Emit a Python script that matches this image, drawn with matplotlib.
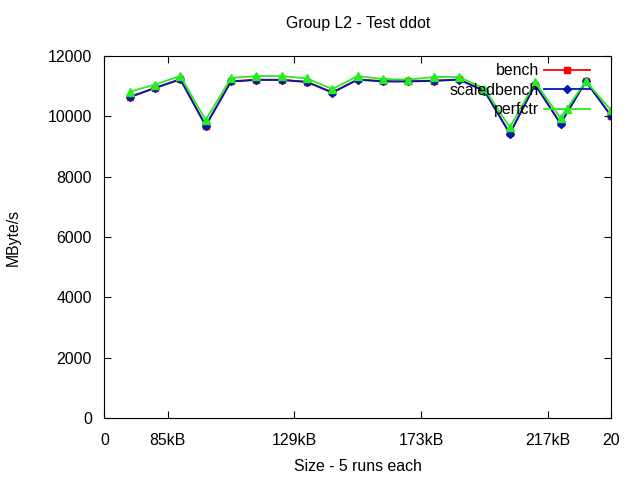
import matplotlib
matplotlib.use("Agg")
import matplotlib.pyplot as plt

plt.rcParams["font.family"] = ["Liberation Sans", "DejaVu Sans"]

x = list(range(1, 21))
bench = [10650, 10950, 11240, 9700, 11170, 11220, 11220, 11150, 10800, 11230,
         11170, 11170, 11190, 11230, 10850, 9440, 11060, 9770, 11170, 10020]
scaledbench = [10640, 10940, 11230, 9690, 11160, 11210, 11210, 11140, 10790, 11220,
               11160, 11160, 11180, 11220, 10840, 9430, 11050, 9760, 11160, 10010]
perfctr = [10820, 11060, 11340, 9880, 11280, 11340, 11340, 11260, 10910, 11340,
           11240, 11220, 11310, 11310, 10920, 9640, 11130, 9950, 11170, 10200]

tick_pos = [0, 2.5, 7.5, 12.5, 17.5, 20]
tick_labels = ["0", "85kB", "129kB", "173kB", "217kB", "20"]

fs = 11.4
fig = plt.figure(figsize=(6.4, 4.8), dpi=100)
ax = fig.add_axes([0.163, 0.129, 0.792, 0.754])

ax.plot(x, bench, color="#ff0000", linewidth=1.3, marker="s", markersize=4.5, label="bench")
ax.plot(x, scaledbench, color="#0018b0", linewidth=1.3, marker="D", markersize=4, label="scaledbench")
ax.plot(x, perfctr, color="#22ee22", linewidth=1.3, marker="^", markersize=6, label="perfctr")

ax.set_xlim(0, 20)
ax.set_ylim(0, 12000)
ax.set_xticks(tick_pos)
ax.set_xticklabels(tick_labels)
ax.set_yticks(range(0, 12001, 2000))
ax.tick_params(direction="in", top=True, right=True, labelsize=fs, length=5)
ax.tick_params(axis="x", pad=11)
ax.tick_params(axis="y", pad=9)

ax.set_title("Group L2 - Test ddot", fontsize=fs, pad=20)
ax.set_xlabel("Size - 5 runs each", fontsize=fs, labelpad=8)
ax.set_ylabel("MByte/s", fontsize=fs)
ax.yaxis.set_label_coords(-0.165, 0.5)

ax.legend(loc="upper right", bbox_to_anchor=(0.9585, 0.98), frameon=False,
          markerfirst=False, fontsize=fs, handlelength=2.9, borderaxespad=0,
          borderpad=0, labelspacing=0.28, handletextpad=0.35)

fig.savefig("out.png", dpi=100)
